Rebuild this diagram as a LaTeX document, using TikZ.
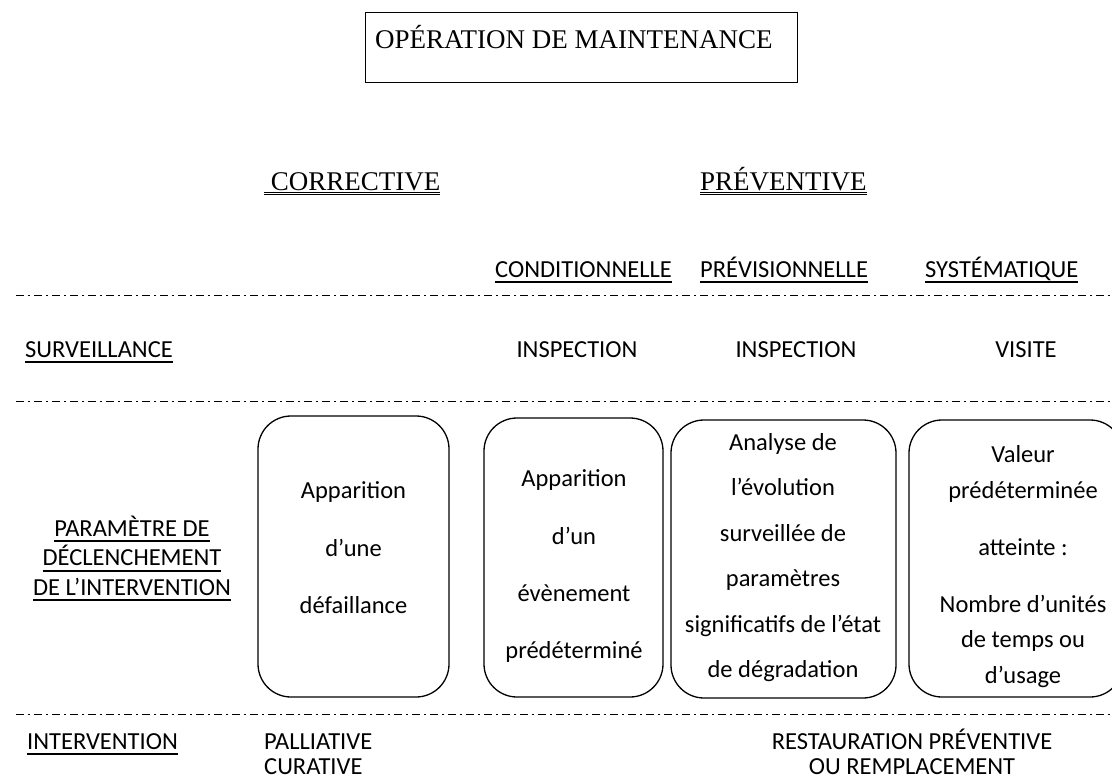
\documentclass[tikz,border=0pt]{standalone}
\usepackage{fontspec}
\setmainfont{Liberation Serif}
\newfontfamily\calfont{Carlito}
\newcommand\culine[1]{\setbox0=\hbox{#1}\rlap{\rule[-6bp]{\wd0}{1.8bp}}\box0}
\newcommand\dulin[1]{\setbox0=\hbox{#1}\rlap{\rule[-2.8bp]{\wd0}{1bp}}\rlap{\rule[-5.2bp]{\wd0}{1bp}}\box0}
\tikzset{
  cal/.style={font=\calfont\fontsize{24.5bp}{29bp}\selectfont, inner sep=0pt, anchor=base},
  tms/.style={font=\fontsize{27bp}{32bp}\selectfont, inner sep=0pt, anchor=base},
  sepline/.style={line width=1bp, dash pattern=on 8bp off 4bp on 2bp off 4bp},
  rbox/.style={draw, line width=1.3bp, rounded corners=33bp, inner sep=0pt},
  hbox/.style={draw, line width=1bp, inner sep=0pt},
}
\begin{document}
\begin{tikzpicture}[x=1bp, y=-1bp]
\useasboundingbox (0,0) rectangle (1112,780);
\clip (0,0) rectangle (1112,780);
% header
\node[hbox, minimum width=432bp, minimum height=69bp] (hdr) at (581,47.5) {};
\node[tms, anchor=base west] (hdrtxt) at (375,49) {OPÉRATION DE MAINTENANCE};
% main categories
\node[tms, anchor=base west] (corr) at (264,190) {\dulin{\ CORRECTIVE}};
\node[tms, anchor=base west] (prev) at (700,190) {\dulin{PRÉVENTIVE}};
% sub categories
\node[cal, anchor=base west] (cond) at (495,277) {\culine{CONDITIONNELLE}};
\node[cal, anchor=base west] (previs) at (700,277) {\culine{PRÉVISIONNELLE}};
\node[cal, anchor=base west] (syst) at (925,277) {\culine{SYSTÉMATIQUE}};
% separators
\draw[sepline] (16,295) -- (1112,295);
\draw[sepline] (16,401) -- (1112,401);
\draw[sepline] (16,714) -- (1112,714);
% surveillance row
\node[cal, anchor=base west] (surv) at (25,357) {\culine{SURVEILLANCE}};
\node[cal] (insp1) at (577,357) {INSPECTION};
\node[cal] (insp2) at (796,357) {INSPECTION};
\node[cal] (visite) at (1026,357) {VISITE};
% parameter row label
\node[cal] (par1) at (132,536) {\culine{PARAMÈTRE DE}};
\node[cal] (par2) at (132,565.5) {\culine{DÉCLENCHEMENT}};
\node[cal] (par3) at (132,595) {\culine{DE L’INTERVENTION}};
% boxes
\node[rbox, minimum width=191bp, minimum height=281bp] (b1) at (353.5,556.5) {};
\node[rbox, minimum width=179bp, minimum height=279bp] (b2) at (573.5,557.5) {};
\node[rbox, minimum width=225bp, minimum height=278bp] (b3) at (783.5,559) {};
\node[rbox, minimum width=214bp, minimum height=277bp] (b4) at (1016,558.5) {};
% box 1 text
\node[cal] (b1a) at (353.5,498) {Apparition};
\node[cal] (b1b) at (353.5,556) {d’une};
\node[cal] (b1c) at (353.5,613) {défaillance};
% box 2 text
\node[cal] (b2a) at (574,486) {Apparition};
\node[cal] (b2b) at (574,544) {d’un};
\node[cal] (b2c) at (574,601) {évènement};
\node[cal] (b2d) at (574,658) {prédéterminé};
% box 3 text
\node[cal] (b3a) at (783,450) {Analyse de};
\node[cal] (b3b) at (783,495.5) {l’évolution};
\node[cal] (b3c) at (783,541) {surveillée de};
\node[cal] (b3d) at (783,586.5) {paramètres};
\node[cal] (b3e) at (783,632) {significatifs de l’état};
\node[cal] (b3f) at (783,677.5) {de dégradation};
% box 4 text
\node[cal] (b4a) at (1023,462) {Valeur};
\node[cal] (b4b) at (1023,498) {prédéterminée};
\node[cal] (b4c) at (1023,555) {atteinte :};
\node[cal] (b4d) at (1023,612) {Nombre d’unités};
\node[cal] (b4e) at (1023,647) {de temps ou};
\node[cal] (b4f) at (1023,683) {d’usage};
% intervention row
\node[cal, anchor=base west] (interv) at (27,749) {\culine{INTERVENTION}};
\node[cal, anchor=base west] (pall) at (264,749) {PALLIATIVE};
\node[cal, anchor=base west] (cura) at (264,774) {CURATIVE};
\node[cal] (rest) at (912,749) {RESTAURATION PRÉVENTIVE};
\node[cal] (rempl) at (912,774) {OU REMPLACEMENT};
\end{tikzpicture}
\end{document}
